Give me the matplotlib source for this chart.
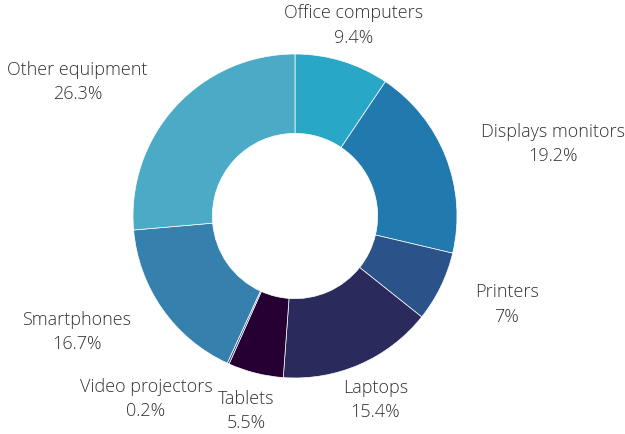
import matplotlib.pyplot as plt
import numpy as np

CATEGORIES = ['Office computers', 'Displays monitors', 'Printers', 'Laptops',
              'Tablets', 'Video projectors', 'Smartphones', 'Other equipment']
SHARES = [9.4, 19.2, 7, 15.4, 5.5, 0.2, 16.7, 26.3]
COLORS = ['#29a7c7', '#2279ae', '#2b5389', '#2b2a5c',
          '#260032', '#34507f', '#3580ac', '#4babc6']
LABEL_ALIGN = ['center', 'left', 'left', 'center',
               'center', 'right', 'right', 'right']

W, H = 625, 435
CX, CY, R = 295, 217, 162

fig = plt.figure(figsize=(W / 100, H / 100), dpi=100)
ax = fig.add_axes([0, 0, 1, 1])

wedges, _ = ax.pie(SHARES, colors=COLORS, startangle=90, counterclock=False,
                   normalize=True, radius=1,
                   wedgeprops=dict(width=0.49, edgecolor='white', linewidth=0.5))

total = sum(SHARES)
cum = 0
for name, val, ha in zip(CATEGORIES, SHARES, LABEL_ALIGN):
    mid = 90 - (cum + val / 2) / total * 360
    cum += val
    x = 1.235 * np.cos(np.radians(mid))
    y = 1.235 * np.sin(np.radians(mid))
    pct = f'{val:g}%'
    ax.text(x, y, f'{name}\n{pct}', ha=ha, va='center', multialignment='center',
            fontsize=13, family=['Open Sans', 'DejaVu Sans'], fontweight='light',
            color='#333333', linespacing=1.45)

ax.set_xlim(-CX / R, (W - CX) / R)
ax.set_ylim(-(H - CY) / R, CY / R)
ax.set_aspect('equal')
ax.axis('off')

fig.savefig('out.png', dpi=100)
